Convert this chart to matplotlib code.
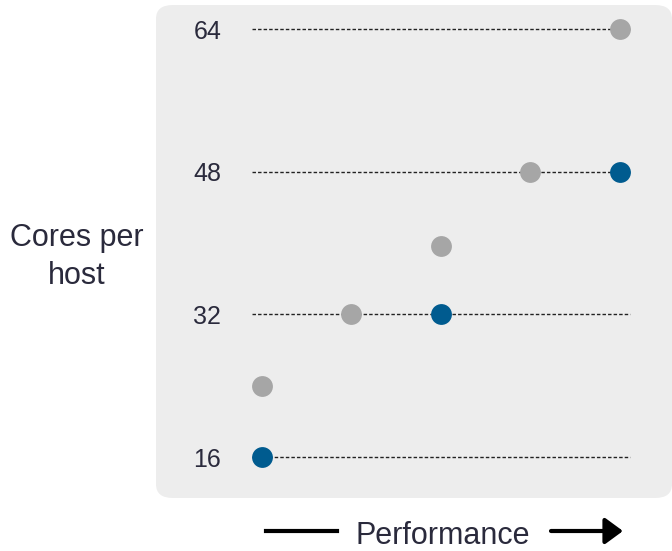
import matplotlib.pyplot as plt
from matplotlib.patches import FancyBboxPatch

plt.rcParams['font.family'] = ['Liberation Sans', 'DejaVu Sans']

# data
core_levels = [64, 48, 32, 16]
gray_x = [5, 4, 3, 2, 1]
gray_y = [64, 48, 39.7, 32, 24]
blue_x = [5, 3, 1]
blue_y = [48, 32, 16]

text_color = '#2a2a3c'
gray = '#a6a6a6'
blue = '#005b8f'

W, H = 672, 551
fig = plt.figure(figsize=(W / 100, H / 100), dpi=100)

# rounded background panel (pixel coords, from top-left)
def fx(px):
    return px / W

def fy(py):
    return 1 - py / H

box = FancyBboxPatch((fx(156), fy(498)), fx(672) - fx(156), fy(5) - fy(498),
                     boxstyle="round,pad=0,rounding_size=0.025",
                     transform=fig.transFigure, facecolor='#ededed',
                     edgecolor='none', zorder=-5)
fig.patches.append(box)

ax = fig.add_axes([fx(217.0), fy(492.7), fx(664.5) - fx(217.0), fy(2.25) - fy(492.7)])
ax.set_zorder(2)
ax.set_xlim(0.5, 5.5)
ax.set_ylim(12, 67)
ax.patch.set_alpha(0)
for s in ax.spines.values():
    s.set_visible(False)
ax.set_xticks([])

ax.hlines(core_levels, 0.888, 5.112, colors='#222222', linewidth=1.0,
          linestyles=(0, (2.5, 1.5)), zorder=1)
ax.scatter(gray_x, gray_y, s=225, color=gray, zorder=3, linewidths=0)
ax.scatter(blue_x, blue_y, s=225, color=blue, zorder=3, linewidths=0)

ax.set_yticks(core_levels)
ax.set_yticklabels([str(v) for v in core_levels])
ax.tick_params(axis='y', length=0, pad=-3, labelsize=18, labelcolor=text_color)

fig.text(fx(77), fy(257), 'Cores per\nhost', ha='center', va='center',
         fontsize=22, color=text_color, linespacing=1.35)

fig.text(fx(443), fy(536), 'Performance', ha='center', va='center',
         fontsize=22, color=text_color)
fig.add_artist(plt.Line2D([fx(266), fx(337)], [fy(531), fy(531)],
                          transform=fig.transFigure, color='black', linewidth=3))
ax.annotate('', xy=(fx(623), fy(531)), xytext=(fx(551), fy(531)),
            xycoords='figure fraction', textcoords='figure fraction',
            arrowprops=dict(arrowstyle='-|>,head_length=0.6,head_width=0.44',
                            color='black', lw=3,
                            mutation_scale=18, shrinkA=0, shrinkB=0))

fig.savefig('out.png', dpi=100)
